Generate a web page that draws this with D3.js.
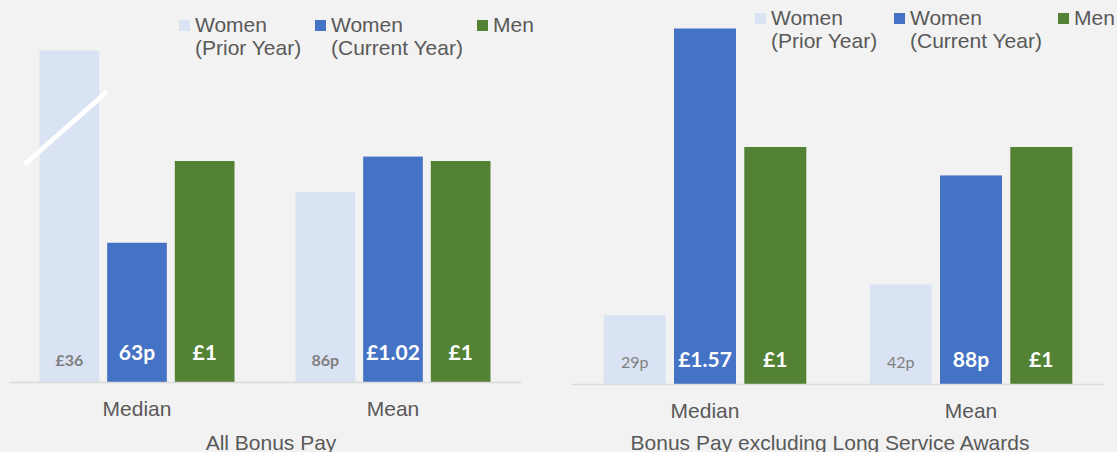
<!DOCTYPE html>
<html lang="en">
    <head>
        <meta charset="utf-8">
        <title>Bonus Pay</title>
        <script type="text/javascript" src="https://cdn.jsdelivr.net/npm/d3@7"></script>
        <style type="text/css">
            body { margin: 0; background: #f2f2f2; }
            svg { display: block; }
        </style>
    </head>

    <body>
        <script type="text/javascript">
            // Data
            var categories = ["Median", "Mean"];
            var seriesLines = [["Women", "(Prior Year)"], ["Women", "(Current Year)"], ["Men"]];
            var seriesColors = ["#dae3f3", "#4472c4", "#548235"];

            var allBonusValues = [[36, 0.63, 1], [0.86, 1.02, 1]];
            var allBonusLabels = [["£36", "63p", "£1"], ["86p", "£1.02", "£1"]];

            var exclLsaValues = [[0.29, 1.57, 1], [0.42, 0.88, 1]];
            var exclLsaLabels = [["29p", "£1.57", "£1"], ["42p", "88p", "£1"]];

            var yMax = 1.5;   // axis maximum, taller bars are cut at the top

            var w = 1117;
            var h = 452;
            var svg = d3.select("body")
                        .append("svg")
                        .attr("width", w)
                        .attr("height", h);

            // Draw one of the two panels
            function drawPanel(opt) {
                var g = svg.append("g");

                var x0 = d3.scaleBand()
                            .domain(categories)
                            .range([opt.left, opt.right]);
                var x1 = d3.scaleBand()
                            .domain([0, 1, 2])
                            .range([0, x0.bandwidth()])
                            .paddingInner(0.118)
                            .paddingOuter(0.451);
                var y = d3.scaleLinear()
                            .domain([0, yMax])
                            .range([opt.base, opt.top])
                            .clamp(true);

                var rows = [];
                opt.values.forEach(function(vals, ci) {
                    vals.forEach(function(v, si) {
                        rows.push({ cat: categories[ci], s: si, v: v, label: opt.labels[ci][si] });
                    });
                });

                g.selectAll("rect.bar")
                    .data(rows)
                    .enter()
                    .append("rect")
                    .attr("class", "bar")
                    .attr("x", function(d) { return x0(d.cat) + x1(d.s); })
                    .attr("y", function(d) { return y(d.v); })
                    .attr("width", x1.bandwidth())
                    .attr("height", function(d) { return y(0) - y(d.v); })
                    .attr("fill", function(d) { return seriesColors[d.s]; });

                // Break mark on the bar that runs off the scale
                if (opt.breakMark) {
                    rows.filter(function(d) { return d.v > yMax; }).forEach(function(d) {
                        var bx = x0(d.cat) + x1(d.s);
                        g.append("line")
                            .attr("x1", bx - 15)
                            .attr("y1", y(yMax) + 114)
                            .attr("x2", bx + x1.bandwidth() + 8)
                            .attr("y2", y(yMax) + 41)
                            .attr("stroke", "#ffffff")
                            .attr("stroke-width", 5);
                    });
                }

                // Axis line
                g.append("line")
                    .attr("x1", opt.left)
                    .attr("x2", opt.right)
                    .attr("y1", opt.base + 0.5)
                    .attr("y2", opt.base + 0.5)
                    .attr("stroke", "#d9d9d9")
                    .attr("stroke-width", 1.5);

                // Data labels at the bar bases
                g.selectAll("text.val")
                    .data(rows)
                    .enter()
                    .append("text")
                    .attr("class", "val")
                    .text(function(d) { return d.label; })
                    .attr("x", function(d) { return x0(d.cat) + x1(d.s) + x1.bandwidth() / 2; })
                    .attr("y", function(d) { return d.s === 0 ? opt.base - opt.lightLift : opt.base - opt.labelLift; })
                    .attr("text-anchor", "middle")
                    .attr("font-family", "Lato, sans-serif")
                    .attr("font-weight", function(d) { return d.s === 0 ? opt.lightWeight : "bold"; })
                    .attr("font-size", function(d) { return d.s === 0 ? "16px" : "21px"; })
                    .attr("fill", function(d) { return d.s === 0 ? "#7f7f7f" : "#ffffff"; });

                // Category labels
                g.selectAll("text.cat")
                    .data(categories)
                    .enter()
                    .append("text")
                    .attr("class", "cat")
                    .text(function(d) { return d; })
                    .attr("x", function(d) { return x0(d) + x0.bandwidth() / 2; })
                    .attr("y", opt.base + 34)
                    .attr("text-anchor", "middle")
                    .attr("font-family", "'Liberation Sans', Arial, sans-serif")
                    .attr("font-size", "21px")
                    .attr("fill", "#595959");

                // Panel title
                g.append("text")
                    .text(opt.title)
                    .attr("x", opt.titleX)
                    .attr("y", 450)
                    .attr("text-anchor", "middle")
                    .attr("font-family", "'Liberation Sans', Arial, sans-serif")
                    .attr("font-size", "21px")
                    .attr("fill", "#595959");

                // Legend
                var leg = g.selectAll("g.leg")
                    .data(seriesLines)
                    .enter()
                    .append("g")
                    .attr("class", "leg")
                    .attr("transform", function(d, i) { return "translate(" + opt.legendX[i] + "," + opt.legendY + ")"; });
                leg.append("rect")
                    .attr("x", 0)
                    .attr("y", -12)
                    .attr("width", 11)
                    .attr("height", 11)
                    .attr("fill", function(d, i) { return seriesColors[i]; });
                var lt = leg.append("text")
                    .attr("font-family", "'Liberation Sans', Arial, sans-serif")
                    .attr("font-size", "21px")
                    .attr("fill", "#595959");
                lt.selectAll("tspan")
                    .data(function(d) { return d; })
                    .enter()
                    .append("tspan")
                    .attr("x", 16)
                    .attr("y", function(d, i) { return i * 23; })
                    .text(function(d) { return d; });
            }

            drawPanel({
                left: 9, right: 521, base: 382, top: 50.5,
                values: allBonusValues, labels: allBonusLabels,
                title: "All Bonus Pay", titleX: 271,
                labelLift: 22, lightLift: 16, lightWeight: "bold",
                breakMark: true,
                legendX: [179, 315, 477], legendY: 32
            });

            drawPanel({
                left: 572, right: 1104, base: 384, top: 28.5,
                values: exclLsaValues, labels: exclLsaLabels,
                title: "Bonus Pay excluding Long Service Awards", titleX: 830,
                labelLift: 17, lightLift: 16, lightWeight: "normal",
                breakMark: false,
                legendX: [755, 894, 1058], legendY: 25
            });
        </script>
    </body>
</html>
